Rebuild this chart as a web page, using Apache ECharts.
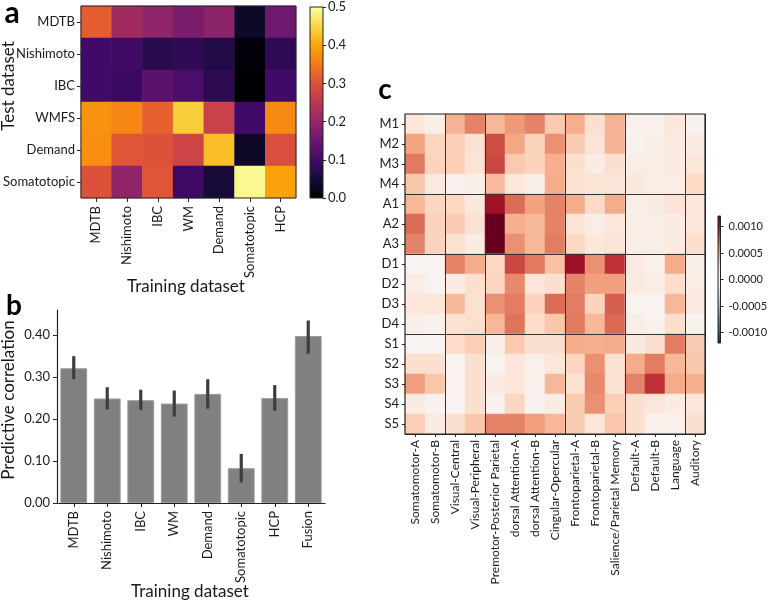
<!DOCTYPE html>
<html><head><meta charset="utf-8">
<script src="https://cdn.jsdelivr.net/npm/echarts@6/dist/echarts.min.js"></script>
<style>html,body{margin:0;padding:0;background:#fff}#c{width:768px;height:600px}</style>
</head><body><div id="c"></div>
<script>
// ---------- Panel a ----------
const aTrain = ['MDTB','Nishimoto','IBC','WM','Demand','Somatotopic','HCP'];
const aTest = ['MDTB','Nishimoto','IBC','WMFS','Demand','Somatotopic'];
const aMDTB        = [0.315, 0.215, 0.195, 0.17, 0.19, 0.035, 0.155];
const aNishimoto   = [0.10, 0.095, 0.07, 0.08, 0.065, 0.005, 0.08];
const aIBC         = [0.10, 0.09, 0.13, 0.11, 0.075, 0.0, 0.10];
const aWMFS        = [0.38, 0.365, 0.32, 0.44, 0.27, 0.10, 0.37];
const aDemand      = [0.375, 0.305, 0.30, 0.275, 0.425, 0.035, 0.295];
const aSomatotopic = [0.30, 0.195, 0.305, 0.095, 0.05, 0.49, 0.395];
const aRows = [aMDTB, aNishimoto, aIBC, aWMFS, aDemand, aSomatotopic];
const aColorTicks = [0, 0.1, 0.2, 0.3, 0.4, 0.5];

// ---------- Panel b ----------
const bCats = ['MDTB','Nishimoto','IBC','WM','Demand','Somatotopic','HCP','Fusion'];
const bValues  = [0.321, 0.249, 0.245, 0.237, 0.260, 0.083, 0.250, 0.398];
const bErrLow  = [0.295, 0.223, 0.222, 0.206, 0.225, 0.049, 0.220, 0.356];
const bErrHigh = [0.350, 0.276, 0.270, 0.268, 0.295, 0.117, 0.281, 0.435];
const bTicks = [0, 0.1, 0.2, 0.3, 0.4];

// ---------- Panel c ----------
const cNetworks = ['Somatomotor-A','Somatomotor-B','Visual-Central','Visual-Peripheral','Premotor-Posterior Parietal','dorsal Attention-A','dorsal Attention-B','Cingular-Opercular','Frontoparietal-A','Frontoparietal-B','Salience/Parietal Memory','Default-A','Default-B','Language','Auditory'];
const cRegions = ['M1','M2','M3','M4','A1','A2','A3','D1','D2','D3','D4','S1','S2','S3','S4','S5'];
const cM1 = [0.00015,0.00007,0.00042,0.00060,0.00040,0.00052,0.00060,0.00032,0.00044,0.00020,0.00042,0.00005,0.00006,0.00014,0.00004];
const cM2 = [0.00048,0.00026,0.00030,0.00018,0.00078,0.00047,0.00027,0.00055,0.00031,0.00016,0.00042,0.00004,0.00008,0.00012,0.00010];
const cM3 = [0.00063,0.00027,0.00030,0.00017,0.00080,0.00032,0.00027,0.00044,0.00020,0.00010,0.00020,0.00009,0.00009,0.00010,0.00015];
const cM4 = [0.00033,0.00012,0.00005,0.00007,0.00038,0.00015,0.00008,0.00045,0.00018,0.00017,0.00017,0.00013,0.00009,0.00009,0.00024];
const cA1 = [0.00040,0.00026,0.00025,0.00013,0.00102,0.00068,0.00049,0.00060,0.00045,0.00024,0.00045,0.00008,0.00010,0.00016,0.00014];
const cA2 = [0.00068,0.00027,0.00031,0.00018,0.00120,0.00043,0.00040,0.00060,0.00017,0.00008,0.00015,0.00008,0.00008,0.00010,0.00015];
const cA3 = [0.00060,0.00027,0.00018,0.00010,0.00120,0.00055,0.00040,0.00062,0.00025,0.00013,0.00016,0.00008,0.00008,0.00010,0.00021];
const cD1 = [0.00003,0.00003,0.00060,0.00045,0.00025,0.00080,0.00063,0.00035,0.00103,0.00055,0.00088,0.00011,0.00006,0.00045,0.00007];
const cD2 = [0.00009,0.00003,0.00010,0.00020,0.00026,0.00058,0.00015,0.00020,0.00060,0.00050,0.00050,0.00010,0.00008,0.00022,0.00009];
const cD3 = [0.00015,0.00015,0.00040,0.00018,0.00055,0.00062,0.00027,0.00068,0.00062,0.00027,0.00072,0.00003,0.00003,0.00040,0.00012];
const cD4 = [0.00008,0.00005,0.00018,0.00020,0.00040,0.00065,0.00023,0.00033,0.00063,0.00040,0.00069,0.00008,0.00005,0.00022,0.00004];
const cS1 = [0.00003,0.00003,0.00023,0.00030,0.00008,0.00032,0.00020,0.00020,0.00045,0.00043,0.00045,0.00012,0.00020,0.00062,0.00031];
const cS2 = [0.00020,0.00020,0.00003,0.00020,0.00003,0.00015,0.00006,0.00015,0.00026,0.00055,0.00018,0.00045,0.00062,0.00040,0.00033];
const cS3 = [0.00050,0.00033,0.00003,0.00020,0.00010,0.00015,0.00006,0.00040,0.00018,0.00058,0.00018,0.00060,0.00088,0.00045,0.00043];
const cS4 = [0.00010,0.00005,0.00003,0.00020,0.00005,0.00026,0.00005,0.00010,0.00031,0.00055,0.00030,0.00020,0.00015,0.00010,0.00015];
const cS5 = [0.00030,0.00010,0.00020,0.00033,0.00060,0.00060,0.00050,0.00040,0.00031,0.00015,0.00033,0.00020,0.00006,0.00006,0.00020];
const cRows = [cM1,cM2,cM3,cM4,cA1,cA2,cA3,cD1,cD2,cD3,cD4,cS1,cS2,cS3,cS4,cS5];
const cRange = [-0.0012, 0.0012];
const cColorTicks = [-0.001, -0.0005, 0, 0.0005, 0.001];
const cColGroupStarts = [2, 4, 8, 11, 14];
const cRowGroupStarts = [4, 7, 11];

// ---------- colours ----------
const inferno = ['#000004','#160b39','#420a68','#6a176e','#932667','#bc3754','#dd513a','#f37819','#fca50a','#f6d746','#fcffa4'];
const rdbuR = ['#053061','#2166ac','#4393c3','#92c5de','#d1e5f0','#f7f7f7','#fddbc7','#f4a582','#d6604d','#b2182b','#67001f'];
function vGrad(cols){
  const n = cols.length - 1;
  return {type:'linear', x:0, y:0, x2:0, y2:1,
    colorStops: cols.slice().reverse().map((c,i)=>({offset:i/n, color:c}))};
}

const aData = [];
aRows.forEach((row,r)=>row.forEach((v,c)=>aData.push([c,r,v])));
const cData = [];
cRows.forEach((row,r)=>row.forEach((v,c)=>cData.push([c,r,v])));
const bErr = bCats.map((_,i)=>[i,bErrLow[i],bErrHigh[i]]);

const FF = 'Lato';
const TXT = '#1a1a1a';
const lab = (size, extra) => Object.assign({fontFamily:FF, fontSize:size, color:TXT}, extra||{});
const tick = (len) => ({show:true, length:len, lineStyle:{color:'#222', width:1}});

const chart = echarts.init(document.getElementById('c'), null, {renderer:'canvas'});
chart.setOption({
  animation:false,
  backgroundColor:'#fff',
  grid:[
    {left:73, top:6, width:223, height:192, show:true, borderColor:'#222', borderWidth:1, z:10, backgroundColor:'transparent'},
    {left:310, top:7, width:13, height:191, show:true, borderColor:'#222', borderWidth:1, z:10, backgroundColor:'transparent'},
    {left:57, top:310, width:268, height:193},
    {left:405, top:114, width:300, height:320, show:true, borderColor:'#222', borderWidth:1.2, z:10, backgroundColor:'transparent'},
    {left:718, top:216, width:10, height:127, show:true, borderColor:'#222', borderWidth:1, z:10, backgroundColor:'transparent'}
  ],
  xAxis:[
    {type:'category', gridIndex:0, data:aTrain, axisLine:{show:false}, axisTick:Object.assign(tick(4),{alignWithLabel:true}),
      axisLabel:lab(13,{rotate:90, margin:8}), splitLine:{show:false}},
    {type:'category', gridIndex:1, data:[''], show:false},
    {type:'category', gridIndex:2, data:bCats, axisLine:{show:true, lineStyle:{color:'#222', width:1.2}},
      axisTick:Object.assign(tick(4),{alignWithLabel:true}), axisLabel:lab(13,{rotate:90, margin:8}), splitLine:{show:false}},
    {type:'category', gridIndex:3, data:cNetworks, z:5, axisLine:{show:false}, axisTick:Object.assign(tick(3),{alignWithLabel:true}),
      axisLabel:lab(12,{rotate:90, margin:6}),
      splitLine:{show:true, interval:(i)=>cColGroupStarts.includes(i), lineStyle:{color:'#333', width:1}}},
    {type:'category', gridIndex:4, data:[''], show:false}
  ],
  yAxis:[
    {type:'category', gridIndex:0, data:aTest, inverse:true, axisLine:{show:false}, axisTick:Object.assign(tick(4),{alignWithLabel:true}),
      axisLabel:lab(13,{margin:6}), splitLine:{show:false}},
    {type:'value', gridIndex:1, position:'right', min:aColorTicks[0], max:aColorTicks[aColorTicks.length-1], interval:0.1,
      axisLine:{show:false}, axisTick:tick(3), splitLine:{show:false},
      axisLabel:lab(13,{margin:5, formatter:(v)=>v.toFixed(1)})},
    {type:'value', gridIndex:2, min:0, max:0.46, axisLine:{show:true, lineStyle:{color:'#222', width:1.2}},
      axisTick:Object.assign(tick(4),{customValues:bTicks}), splitLine:{show:false},
      axisLabel:lab(13,{margin:7, customValues:bTicks, formatter:(v)=>v.toFixed(2)})},
    {type:'category', gridIndex:3, data:cRegions, inverse:true, z:5, axisLine:{show:false}, axisTick:Object.assign(tick(3),{alignWithLabel:true}),
      axisLabel:lab(13,{margin:6}),
      splitLine:{show:true, interval:(i)=>cRowGroupStarts.includes(i), lineStyle:{color:'#333', width:1}}},
    {type:'value', gridIndex:4, min:0, max:1, show:false},
    {type:'value', gridIndex:4, position:'right', min:cRange[0], max:cRange[1],
      axisLine:{show:false}, axisTick:Object.assign(tick(3),{customValues:cColorTicks}), splitLine:{show:false},
      axisLabel:lab(11,{margin:8, customValues:cColorTicks, formatter:(v)=>v.toFixed(4)})}
  ],
  visualMap:[
    {type:'continuous', seriesIndex:0, min:aColorTicks[0], max:aColorTicks[aColorTicks.length-1], inRange:{color:inferno}, show:false},
    {type:'continuous', seriesIndex:4, min:cRange[0], max:cRange[1], inRange:{color:rdbuR}, show:false}
  ],
  series:[
    {type:'heatmap', xAxisIndex:0, yAxisIndex:0, data:aData, silent:true, itemStyle:{borderWidth:0}},
    {type:'bar', xAxisIndex:1, yAxisIndex:1, data:[aColorTicks[aColorTicks.length-1]], barWidth:'100%', silent:true,
      itemStyle:{color:vGrad(inferno)}},
    {type:'bar', xAxisIndex:2, yAxisIndex:2, data:bValues, barWidth:'80%', silent:true,
      itemStyle:{color:'#808080', borderColor:'#9a9a9a', borderWidth:1}},
    {type:'custom', xAxisIndex:2, yAxisIndex:2, data:bErr, silent:true, z:5,
      renderItem:(params, api)=>{
        const x = api.value(0);
        const p1 = api.coord([x, api.value(1)]);
        const p2 = api.coord([x, api.value(2)]);
        return {type:'line', shape:{x1:p1[0], y1:p1[1], x2:p2[0], y2:p2[1]}, style:{stroke:'#3d3d3d', lineWidth:3.2}};
      }},
    {type:'heatmap', xAxisIndex:3, yAxisIndex:3, data:cData, silent:true, itemStyle:{borderWidth:0}},
    {type:'bar', xAxisIndex:4, yAxisIndex:4, data:[1], barWidth:'100%', silent:true,
      itemStyle:{color:vGrad(rdbuR)}}
  ],
  graphic:[
    {type:'text', x:12, y:13, style:{text:'a', font:'bold 30px Lato', fill:'#000', align:'center', verticalAlign:'middle'}},
    {type:'text', x:14, y:306, style:{text:'b', font:'bold 28px Lato', fill:'#000', align:'center', verticalAlign:'middle'}},
    {type:'text', x:385, y:90, style:{text:'c', font:'bold 28px Lato', fill:'#000', align:'center', verticalAlign:'middle'}},
    {type:'text', x:9, y:86, rotation:Math.PI/2, style:{text:'Test dataset', font:'17px Lato', fill:TXT, align:'center', verticalAlign:'middle'}},
    {type:'text', x:186, y:287, style:{text:'Training dataset', font:'17px Lato', fill:TXT, align:'center', verticalAlign:'middle'}},
    {type:'text', x:9, y:400, rotation:Math.PI/2, style:{text:'Predictive correlation', font:'17px Lato', fill:TXT, align:'center', verticalAlign:'middle'}},
    {type:'text', x:190, y:592, style:{text:'Training dataset', font:'17px Lato', fill:TXT, align:'center', verticalAlign:'middle'}}
  ]
});
</script></body></html>
